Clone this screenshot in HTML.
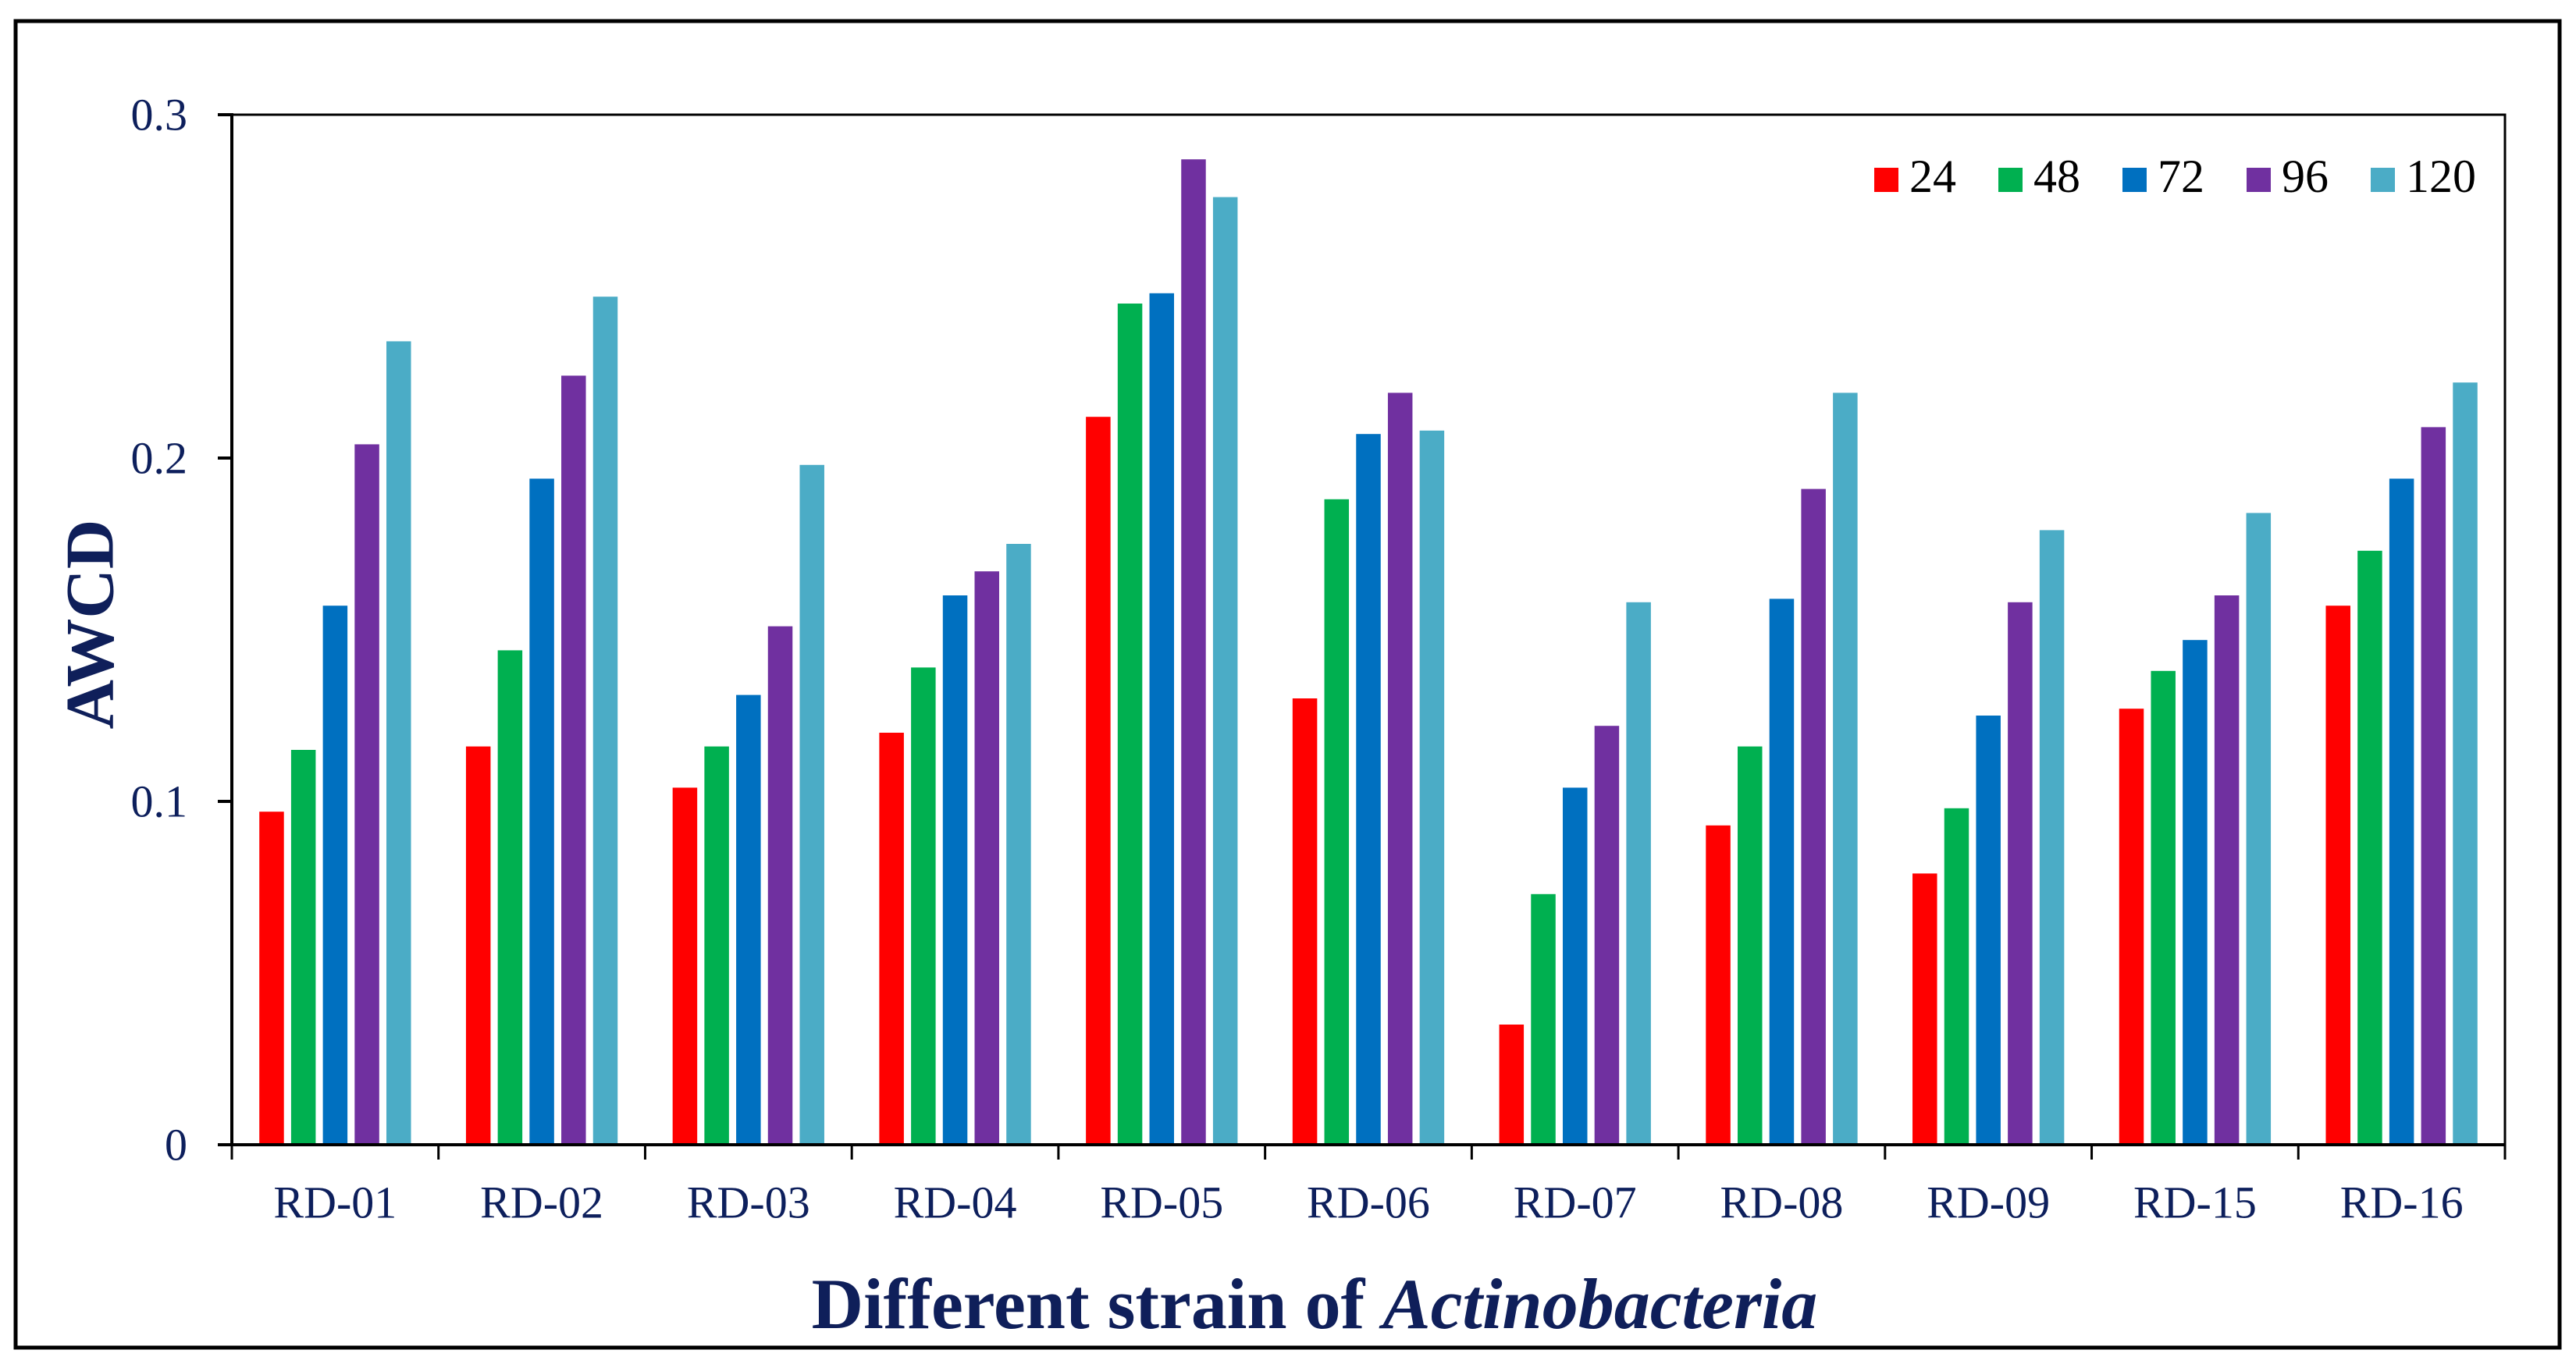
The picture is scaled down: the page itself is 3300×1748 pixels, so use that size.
<!DOCTYPE html>
<html><head><meta charset="utf-8"><style>
html,body{margin:0;padding:0;background:#fff;}
svg{display:block;}
text{font-family:"Liberation Serif",serif;}
</style></head><body>
<svg id="chart" width="3300" height="1748" viewBox="0 0 3300 1748">
<rect x="20" y="27" width="3259" height="1700" fill="none" stroke="#000" stroke-width="5"/>
<g id="plot"></g>
<text x="116" y="800" transform="rotate(-90 116 800)" text-anchor="middle" dominant-baseline="central" font-size="88" font-weight="bold" fill="#0f1f5a">AWCD</text>
<text x="1684" y="1702" text-anchor="middle" font-size="92" font-weight="bold" fill="#0f1f5a">Different strain of <tspan font-style="italic">Actinobacteria</tspan></text>
</svg>
<script>
const categories = ["RD-01","RD-02","RD-03","RD-04","RD-05","RD-06","RD-07","RD-08","RD-09","RD-15","RD-16"];
const seriesNames = ["24","48","72","96","120"];
const s24  = [0.097,0.116,0.104,0.120,0.212,0.130,0.035,0.093,0.079,0.127,0.157];
const s48  = [0.115,0.144,0.116,0.139,0.245,0.188,0.073,0.116,0.098,0.138,0.173];
const s72  = [0.157,0.194,0.131,0.160,0.248,0.207,0.104,0.159,0.125,0.147,0.194];
const s96  = [0.204,0.224,0.151,0.167,0.287,0.219,0.122,0.191,0.158,0.160,0.209];
const s120 = [0.234,0.247,0.198,0.175,0.276,0.208,0.158,0.219,0.179,0.184,0.222];
const yTicks = [0, 0.1, 0.2, 0.3];
const yTickLabels = ["0","0.1","0.2","0.3"];

const series = [s24,s48,s72,s96,s120];
const colors = ["#ff0000","#00b050","#0070c0","#7030a0","#4bacc6"];
const NS = "http://www.w3.org/2000/svg";
const L=297, R=3209, T=147, B=1467, yMax=0.3;
const catW = (R-L)/categories.length;
const y = v => B - v/yMax*(B-T);
const x = i => L + i*catW;
const g = document.getElementById('plot');
function mk(tag, attrs){const e=document.createElementNS(NS,tag);for(const k in attrs)e.setAttribute(k,attrs[k]);g.appendChild(e);return e;}

const barW=31.5, step=40.7;
series.forEach((s,si)=>{
  s.forEach((v,ci)=>{
    const cx = x(ci)+catW/2;
    const bx = cx - (step*2) - barW/2 + si*step;
    const r = mk('rect',{x:bx,y:y(v),width:barW,height:B-y(v),fill:colors[si]});
    
    
  });
});
const fr = mk('path',{d:`M${L} ${T} H${R} V${B}`,fill:'none',stroke:'#000','stroke-width':3});


const ya = mk('line',{x1:L,y1:T-2,x2:L,y2:B,stroke:'#000','stroke-width':4});


const xa = mk('line',{x1:L-18,y1:B,x2:R,y2:B,stroke:'#000','stroke-width':4});


yTicks.forEach((t,i)=>{
  const tk = mk('line',{x1:L-18,y1:y(t),x2:L,y2:y(t),stroke:'#000','stroke-width':4});
  
  
  const tx = mk('text',{x:240,y:y(t),'text-anchor':'end','dominant-baseline':'central','font-size':58,fill:'#0d1f5c'});
  tx.textContent = yTickLabels[i];
  
  
});
for(let i=0;i<=categories.length;i++){
  const tk = mk('line',{x1:x(i),y1:B,x2:x(i),y2:B+19,stroke:'#000','stroke-width':3});
  
  
}
categories.forEach((c,i)=>{
  const tx = mk('text',{x:x(i)+catW/2,y:1541,'text-anchor':'middle','dominant-baseline':'central','font-size':58,fill:'#0d1f5c'});
  tx.textContent = c;
  
  
});
seriesNames.forEach((n,i)=>{
  const lx = 2401 + i*159;
  const sw = mk('rect',{x:lx,y:215,width:31,height:31,fill:colors[i]});
  
  
  const tx = mk('text',{x:lx+45,y:246,'font-size':60,fill:'#000'});
  tx.textContent = n;
  
  
});
</script>
</body></html>
